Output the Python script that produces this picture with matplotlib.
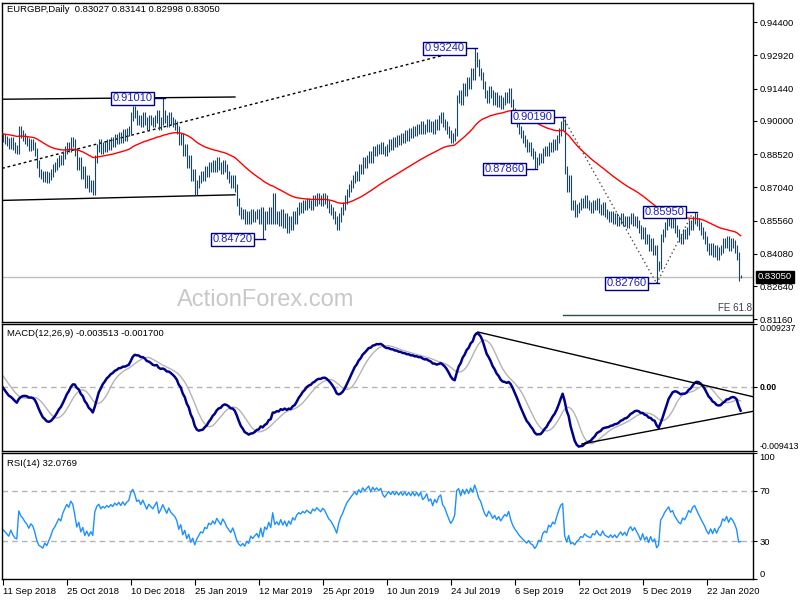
import numpy as np
import pandas as pd
import matplotlib
matplotlib.use("Agg")
import matplotlib.pyplot as plt
import matplotlib.transforms as mtransforms

plt.rcParams['font.family'] = ['Liberation Sans', 'DejaVu Sans']

# bars before 11 Sep 2018, only used to warm up the indicators (not drawn)
warmup_close = [0.8850, 0.8860, 0.8840, 0.8870, 0.8880, 0.8860, 0.8850, 0.8870, 0.8890, 0.8880,
                0.8860, 0.8870, 0.8890, 0.8900, 0.8880, 0.8870, 0.8860, 0.8880, 0.8900, 0.8890,
                0.8870, 0.8880, 0.8900, 0.8910, 0.8930, 0.8950, 0.8970, 0.8980, 0.8960, 0.8990,
                0.8970, 0.8950, 0.8960, 0.8980, 0.9000, 0.9020, 0.9010, 0.9040, 0.9030, 0.9050,
                0.9060, 0.9040, 0.9020, 0.9000, 0.8990, 0.8980, 0.8990, 0.8960, 0.8970, 0.8950,
                0.8930]

# daily closes, 11 Sep 2018 .. 13 Feb 2020
close = [0.8925, 0.8915, 0.8905, 0.8895, 0.8910, 0.8890, 0.8875, 0.8870, 0.8960, 0.8940,
         0.8930, 0.8915, 0.8905, 0.8885, 0.8900, 0.8890, 0.8860, 0.8810, 0.8770, 0.8760,
         0.8745, 0.8760, 0.8740, 0.8755, 0.8770, 0.8790, 0.8800, 0.8815, 0.8830, 0.8820,
         0.8850, 0.8870, 0.8890, 0.8880, 0.8910, 0.8900, 0.8860, 0.8800, 0.8820, 0.8760,
         0.8780, 0.8720, 0.8740, 0.8700, 0.8720, 0.8690, 0.8830, 0.8880, 0.8900, 0.8870,
         0.8890, 0.8880, 0.8900, 0.8890, 0.8910, 0.8900, 0.8925, 0.8915, 0.8935, 0.8920,
         0.8945, 0.8930, 0.8950, 0.8960, 0.9020, 0.9050, 0.9030, 0.9000, 0.9010, 0.8990,
         0.9020, 0.9000, 0.8980, 0.9010, 0.9000, 0.8990, 0.9010, 0.9030, 0.8980, 0.9000,
         0.9030, 0.9010, 0.8990, 0.9020, 0.9000, 0.8990, 0.8980, 0.8960, 0.8910, 0.8930,
         0.8860, 0.8880, 0.8810, 0.8830, 0.8750, 0.8770, 0.8690, 0.8720, 0.8740, 0.8760,
         0.8750, 0.8780, 0.8770, 0.8800, 0.8790, 0.8810, 0.8790, 0.8820, 0.8800, 0.8780,
         0.8810, 0.8790, 0.8760, 0.8740, 0.8720, 0.8740, 0.8700, 0.8640, 0.8600, 0.8580,
         0.8590, 0.8560, 0.8580, 0.8560, 0.8590, 0.8570, 0.8580, 0.8590, 0.8560, 0.8600,
         0.8530, 0.8580, 0.8560, 0.8600, 0.8560, 0.8660, 0.8560, 0.8580, 0.8550, 0.8590,
         0.8540, 0.8570, 0.8520, 0.8560, 0.8530, 0.8580, 0.8560, 0.8600, 0.8620, 0.8610,
         0.8630, 0.8620, 0.8640, 0.8630, 0.8620, 0.8650, 0.8640, 0.8660, 0.8650, 0.8640,
         0.8660, 0.8650, 0.8630, 0.8610, 0.8600, 0.8580, 0.8560, 0.8530, 0.8570, 0.8600,
         0.8620, 0.8650, 0.8680, 0.8700, 0.8720, 0.8740, 0.8760, 0.8750, 0.8790, 0.8780,
         0.8820, 0.8810, 0.8830, 0.8850, 0.8830, 0.8870, 0.8860, 0.8880, 0.8870, 0.8890,
         0.8870, 0.8860, 0.8880, 0.8900, 0.8890, 0.8910, 0.8900, 0.8920, 0.8910, 0.8930,
         0.8920, 0.8940, 0.8930, 0.8950, 0.8940, 0.8960, 0.8950, 0.8970, 0.8960, 0.8980,
         0.8960, 0.8970, 0.8990, 0.8970, 0.8980, 0.8960, 0.8990, 0.8980, 0.9010, 0.9020,
         0.8990, 0.8980, 0.8960, 0.8940, 0.8920, 0.8930, 0.8950, 0.9100, 0.9120, 0.9090,
         0.9150, 0.9130, 0.9180, 0.9160, 0.9220, 0.9200, 0.9290, 0.9260, 0.9220, 0.9200,
         0.9160, 0.9120, 0.9100, 0.9140, 0.9120, 0.9090, 0.9110, 0.9080, 0.9100, 0.9070,
         0.9090, 0.9110, 0.9100, 0.9130, 0.9080, 0.9040, 0.9010, 0.8990, 0.8960, 0.8940,
         0.8920, 0.8900, 0.8880, 0.8890, 0.8860, 0.8850, 0.8810, 0.8820, 0.8840, 0.8830,
         0.8860, 0.8870, 0.8860, 0.8890, 0.8880, 0.8900, 0.8890, 0.8920, 0.8950, 0.8980,
         0.8990, 0.8780, 0.8700, 0.8740, 0.8620, 0.8630, 0.8590, 0.8610, 0.8620, 0.8640,
         0.8630, 0.8650, 0.8630, 0.8620, 0.8610, 0.8630, 0.8620, 0.8640, 0.8610, 0.8600,
         0.8620, 0.8590, 0.8580, 0.8570, 0.8580, 0.8560, 0.8570, 0.8550, 0.8560, 0.8570,
         0.8550, 0.8560, 0.8540, 0.8560, 0.8570, 0.8550, 0.8560, 0.8540, 0.8520, 0.8490,
         0.8510, 0.8470, 0.8480, 0.8440, 0.8460, 0.8420, 0.8430, 0.8350, 0.8360, 0.8480,
         0.8500, 0.8530, 0.8550, 0.8570, 0.8540, 0.8550, 0.8520, 0.8500, 0.8480, 0.8470,
         0.8500, 0.8490, 0.8510, 0.8540, 0.8530, 0.8560, 0.8570, 0.8550, 0.8530, 0.8510,
         0.8490, 0.8470, 0.8440, 0.8420, 0.8440, 0.8410, 0.8430, 0.8400, 0.8420, 0.8430,
         0.8460, 0.8450, 0.8470, 0.8440, 0.8460, 0.8450, 0.8430, 0.8400, 0.8303, 0.8305]

last_ohlc = [0.83027, 0.83141, 0.82998, 0.83050]
macd_readout = (-0.003513, -0.001700)
rsi_readout = 32.0769

# swing labels: bar index, price, high/low
swings = [(80, 0.91010, 'high'), (130, 0.84720, 'low'), (236, 0.93240, 'high'),
          (266, 0.87860, 'low'), (280, 0.90190, 'high'), (327, 0.82760, 'low'),
          (346, 0.85950, 'high')]

date_pos = [0, 32, 64, 96, 128, 160, 192, 224, 256, 288, 320, 352]
date_labels = ['11 Sep 2018', '25 Oct 2018', '10 Dec 2018', '25 Jan 2019', '12 Mar 2019',
               '25 Apr 2019', '10 Jun 2019', '24 Jul 2019', '6 Sep 2019', '22 Oct 2019',
               '5 Dec 2019', '22 Jan 2020']
price_ticks = [0.94400, 0.92920, 0.91440, 0.90000, 0.88520, 0.87040, 0.85560, 0.84080, 0.82640, 0.81160]
macd_ticks = [-0.009413, 0.0, 0.009237]
rsi_ticks = [0, 30, 70, 100]

# drawn trend lines (bar, price) pairs
channel_lines = [[(-0.35, 0.9097), (116.1, 0.9107)], [(-0.35, 0.8646), (116.1, 0.8671)]]
long_dotted = [(-0.35, 0.8789), (222.6, 0.9298)]
swing_dotted = [[(280, 0.9019), (327, 0.8276)], [(327, 0.8276), (345, 0.8590)]]
fe_level = 0.8136
fe_start = 280
macd_lines = [[(237.6, 0.00806), (376, -0.00150)], [(289.6, -0.00838), (376, -0.00354)]]

# indicators
n_warm = len(warmup_close)
full = pd.Series(warmup_close + close)
ema55 = full.ewm(span=55, adjust=False).mean()
macd = full.ewm(span=12, adjust=False).mean() - full.ewm(span=26, adjust=False).mean()
signal = macd.rolling(9, min_periods=1).mean()
delta = full.diff().fillna(0)
up = delta.clip(lower=0).ewm(alpha=1 / 14, adjust=False).mean()
dn = (-delta.clip(upper=0)).ewm(alpha=1 / 14, adjust=False).mean()
rsi = 100 - 100 / (1 + up / dn)

ema55 = ema55.values[n_warm:]
macd = macd.values[n_warm:]
signal = signal.values[n_warm:]
rsi = rsi.values[n_warm:]

c = np.array(close)
o = full.shift(1).values[n_warm:]
wick = 0.0018
h = np.maximum(o, c) + wick
l = np.minimum(o, c) - wick
o[-1], h[-1], l[-1], c[-1] = last_ohlc
for i, p, kind in swings:
    if kind == 'high':
        h[i] = p
    else:
        l[i] = p
x = np.arange(len(c))

bar_col = '#1a4560'
navy = '#000080'
xlim = (-0.4, 375.2)

fig = plt.figure(figsize=(8, 6), dpi=100)
ax = fig.add_axes([0.0025, 0.46333, 0.93875, 0.53167])
ax_m = fig.add_axes([0.0025, 0.24833, 0.93875, 0.21167])
ax_r = fig.add_axes([0.0025, 0.035, 0.93875, 0.21])

for a in (ax, ax_m, ax_r):
    a.set_xlim(*xlim)
    a.yaxis.tick_right()
    a.tick_params(axis='y', direction='out', length=3, width=0.8, labelsize=6.8, pad=1.5)
    for s in a.spines.values():
        s.set_linewidth(1.0)
        s.set_color('black')
ax.set_xticks([])
ax_m.set_xticks([])

# price panel
ax.set_ylim(0.8104, 0.9526)
ax.set_yticks(price_ticks)
ax.set_yticklabels(['%.5f' % t for t in price_ticks])
ax.axhline(last_ohlc[3], color='#c0c0c0', lw=1, zorder=1)
ax.vlines(x, l, h, color=bar_col, lw=0.8, zorder=3)
ax.plot(x, ema55, color='#ff0000', lw=1.0, zorder=4)

for ln in channel_lines:
    ax.plot([ln[0][0], ln[1][0]], [ln[0][1], ln[1][1]], color='black', lw=1.0, zorder=2)
ax.plot([long_dotted[0][0], long_dotted[1][0]], [long_dotted[0][1], long_dotted[1][1]],
        color='black', lw=1.0, ls=(0, (2, 2)), zorder=2)
for ln in swing_dotted:
    ax.plot([ln[0][0], ln[1][0]], [ln[0][1], ln[1][1]], color='#505050', lw=1.0,
            ls=(0, (1, 2)), zorder=2)
ax.plot([fe_start, xlim[1]], [fe_level, fe_level], color='#2f4f4f', lw=1.0)
ax.text(374.5, fe_level + 0.0006, 'FE 61.8', ha='right', va='bottom', fontsize=7, color='#3c3c50')

for i, p, kind in swings:
    ax.plot([i - 5, i + 1], [p, p], color=navy, lw=1.0, zorder=5)
    ax.text(i - 5, p, '%.5f' % p, ha='right', va='center', fontsize=8, color='#2020c0', zorder=6,
            bbox=dict(boxstyle='square,pad=0.12', fc='white', ec=navy, lw=1.0))

trans = mtransforms.blended_transform_factory(ax.transAxes, ax.transData)
ax.text(1.006, last_ohlc[3], '%.5f' % last_ohlc[3], transform=trans, ha='left', va='center',
        fontsize=6.8, color='white', zorder=7,
        bbox=dict(boxstyle='square,pad=0.2', fc='black', ec='black'))

fig.text(7 / 800, 1 - 10 / 600, 'EURGBP,Daily  %.5f %.5f %.5f %.5f' % tuple(last_ohlc),
         fontsize=6.8, va='center', ha='left')
fig.text(266 / 800, 1 - 300 / 600, 'ActionForex.com', fontsize=17, color='#c8c8c8',
         ha='center', va='center')

# MACD panel
ax_m.set_ylim(macd_ticks[0], macd_ticks[-1])
ax_m.set_yticks(macd_ticks)
ax_m.set_yticklabels(['-0.009413', '0.00', '0.009237'])
ax_m.tick_params(axis='y', labelsize=6.3)
labs = ax_m.get_yticklabels()
labs[0].set_va('bottom')
labs[1].set_fontweight('bold')
labs[-1].set_va('top')
ax_m.axhline(0, color='#b4b4b4', lw=1, ls=(0, (4, 3)))
ax_m.plot(x, signal, color='#b4b4b4', lw=1.0)
ax_m.plot(x, macd, color='#00008b', lw=1.8)
for ln in macd_lines:
    ax_m.plot([ln[0][0], ln[1][0]], [ln[0][1], ln[1][1]], color='black', lw=1.0)
fig.text(7 / 800, 1 - 334 / 600, 'MACD(12,26,9) %.6f %.6f' % macd_readout,
         fontsize=6.8, va='center', ha='left')

# RSI panel
ax_r.set_ylim(0, 100)
ax_r.set_yticks(rsi_ticks)
ax_r.set_yticklabels([str(t) for t in rsi_ticks])
labs = ax_r.get_yticklabels()
labs[0].set_va('bottom')
labs[-1].set_va('top')
ax_r.axhline(70, color='#b4b4b4', lw=1, ls=(0, (4, 3)))
ax_r.axhline(30, color='#b4b4b4', lw=1, ls=(0, (4, 3)))
ax_r.plot(x, rsi, color='#1e90ff', lw=1.0)
fig.text(7 / 800, 1 - 463 / 600, 'RSI(14) %.4f' % rsi_readout, fontsize=6.8, va='center', ha='left')

ax_r.set_xticks(date_pos)
ax_r.set_xticklabels(date_labels, ha='left', fontsize=6.8)
ax_r.tick_params(axis='x', direction='out', length=4, width=0.8, pad=2)

fig.savefig('out.png', dpi=100)
